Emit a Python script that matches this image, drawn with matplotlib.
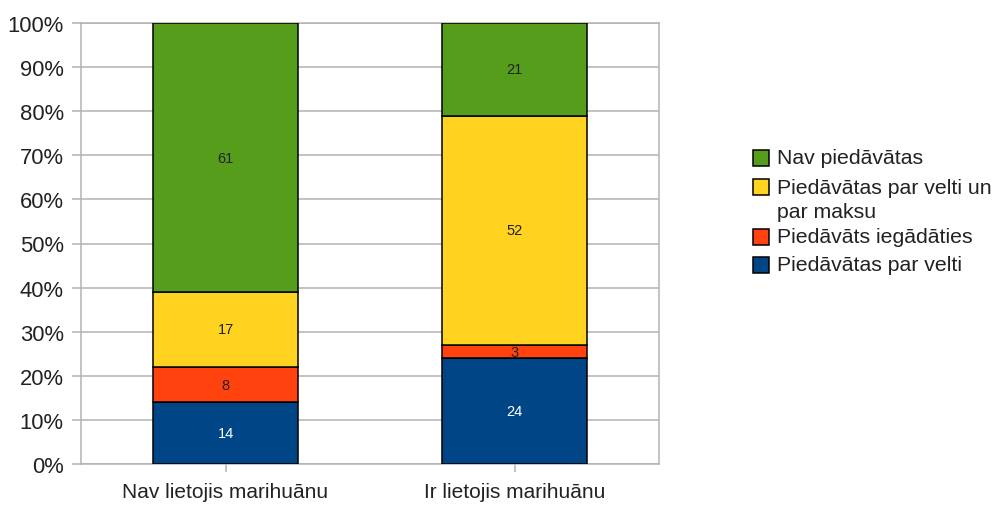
import matplotlib.pyplot as plt
import matplotlib.patches as mpatches
import numpy as np

plt.rcParams["font.family"] = ["Liberation Sans", "DejaVu Sans"]

# data
categories = ["Nav lietojis marihuānu", "Ir lietojis marihuānu"]
series_names = ["Piedāvātas par velti", "Piedāvāts iegādāties",
                "Piedāvātas par velti un\npar maksu", "Nav piedāvātas"]
velti = [14, 24]
iegadaties = [8, 3]
velti_maksu = [17, 52]
nav = [61, 21]
series_values = [velti, iegadaties, velti_maksu, nav]
colors = ["#004586", "#ff420e", "#ffd320", "#579d1c"]
label_colors = ["white", "#222222", "#222222", "#222222"]
yticks = np.arange(0, 101, 10)

W, H = 996, 506
fig = plt.figure(figsize=(W / 100, H / 100), dpi=100)
ax = fig.add_axes([81 / W, 1 - 465 / H, (659 - 81) / W, (465 - 24) / H])

grid_c = "#b3b3b3"
x = np.arange(len(categories))
bottom = np.zeros(len(categories))
for vals, col, lc in zip(series_values, colors, label_colors):
    vals = np.array(vals, dtype=float)
    bars = ax.bar(x, vals, width=0.505, bottom=bottom, color=col,
                  edgecolor="black", linewidth=1.1, zorder=3)
    for xi, b, v in zip(x, bottom, vals):
        ax.text(xi, b + v / 2, f"{int(v)}", ha="center", va="center",
                fontsize=10.5, color=lc, zorder=4)
    bottom += vals

ax.set_xlim(-0.5, 1.5)
ax.set_ylim(0, 100)
ax.set_yticks(yticks)
ax.set_yticklabels([f"{t}%" for t in yticks])
ax.set_xticks(x)
ax.set_xticklabels(categories)
ax.yaxis.grid(True, color=grid_c, linewidth=1.1, zorder=0)
ax.tick_params(axis="y", length=6.5, width=1.1, color=grid_c, pad=6,
               labelsize=15.8, labelcolor="#222222")
ax.tick_params(axis="x", length=6, width=1.1, color=grid_c, pad=7,
               labelsize=15, labelcolor="#222222")
for s in ax.spines.values():
    s.set_color(grid_c)
    s.set_linewidth(1.1)

# legend, drawn by hand so the square sits on the first line
leg_rows = [159, 188, 238, 266]
order = [3, 2, 1, 0]
sq = 16
for row_y, i in zip(leg_rows, order):
    fig.patches.append(mpatches.Rectangle(
        ((753) / W, 1 - (row_y + sq / 2) / H), sq / W, sq / H,
        transform=fig.transFigure, facecolor=colors[i], edgecolor="black",
        linewidth=1.1))
    for k, line in enumerate(series_names[i].split("\n")):
        fig.text(777 / W, 1 - (row_y + 25 * k) / H, line, ha="left",
                 va="center", fontsize=15.3, color="#222222")

fig.savefig("out.png", dpi=100)
